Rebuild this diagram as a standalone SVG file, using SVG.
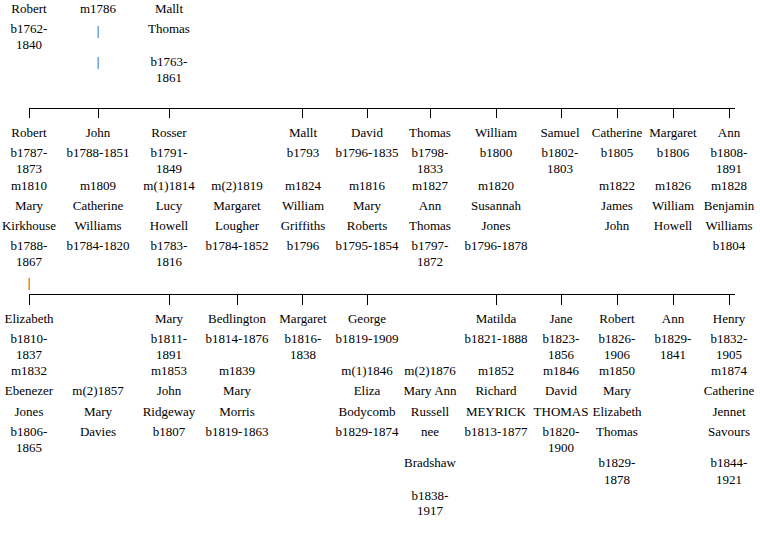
<svg xmlns="http://www.w3.org/2000/svg" width="760" height="541" viewBox="0 0 760 541" font-family="'Liberation Serif', 'DejaVu Serif', serif">
<style>
text{font-family:'Liberation Serif','DejaVu Serif',serif;font-size:13px;fill:#000;text-anchor:middle}
.c line{stroke:#000;stroke-width:1;fill:none}
</style>
<rect width="760" height="541" fill="#fff"/>
<g class="c" id="connectors">
<line x1="29" y1="108.5" x2="735" y2="108.5"/>
<line x1="29.5" y1="108" x2="29.5" y2="118"/>
<line x1="98.5" y1="108" x2="98.5" y2="118"/>
<line x1="169.5" y1="108" x2="169.5" y2="118"/>
<line x1="302.5" y1="108" x2="302.5" y2="118"/>
<line x1="367.5" y1="108" x2="367.5" y2="118"/>
<line x1="430.5" y1="108" x2="430.5" y2="118"/>
<line x1="496.5" y1="108" x2="496.5" y2="118"/>
<line x1="561.5" y1="108" x2="561.5" y2="118"/>
<line x1="617.5" y1="108" x2="617.5" y2="118"/>
<line x1="673.5" y1="108" x2="673.5" y2="118"/>
<line x1="729.5" y1="108" x2="729.5" y2="118"/>
<line x1="29" y1="294.5" x2="735" y2="294.5"/>
<line x1="29.5" y1="294" x2="29.5" y2="305"/>
<line x1="169.5" y1="294" x2="169.5" y2="305"/>
<line x1="237.5" y1="294" x2="237.5" y2="305"/>
<line x1="302.5" y1="294" x2="302.5" y2="305"/>
<line x1="367.5" y1="294" x2="367.5" y2="305"/>
<line x1="496.5" y1="294" x2="496.5" y2="305"/>
<line x1="561.5" y1="294" x2="561.5" y2="305"/>
<line x1="617.5" y1="294" x2="617.5" y2="305"/>
<line x1="673.5" y1="294" x2="673.5" y2="305"/>
<line x1="729.5" y1="294" x2="729.5" y2="305"/>
</g>
<g id="robert-1762"><text x="29" y="13">Robert</text><text x="29" y="33">b1762-</text><text x="29" y="49">1840</text></g>
<g id="m1786"><text x="98" y="13">m1786</text><text x="98" y="35">|</text><text x="98" y="66">|</text></g>
<g id="mallt-thomas"><text x="169" y="13">Mallt</text><text x="169" y="33">Thomas</text><text x="169" y="66">b1763-</text><text x="169" y="82">1861</text></g>

<g id="robert-1787"><text x="29" y="137">Robert</text><text x="29" y="157">b1787-</text><text x="29" y="173">1873</text><text x="29" y="190">m1810</text><text x="29" y="210">Mary</text><text x="29" y="230">Kirkhouse</text><text x="29" y="250">b1788-</text><text x="29" y="266">1867</text><text x="29" y="287">|</text></g>
<g id="john"><text x="98" y="137">John</text><text x="98" y="157">b1788-1851</text><text x="98" y="190">m1809</text><text x="98" y="210">Catherine</text><text x="98" y="230">Williams</text><text x="98" y="250">b1784-1820</text></g>
<g id="rosser"><text x="169" y="137">Rosser</text><text x="169" y="157">b1791-</text><text x="169" y="173">1849</text><text x="169" y="190">m(1)1814</text><text x="169" y="210">Lucy</text><text x="169" y="230">Howell</text><text x="169" y="250">b1783-</text><text x="169" y="266">1816</text></g>
<g id="rosser-m2"><text x="237" y="190">m(2)1819</text><text x="237" y="210">Margaret</text><text x="237" y="230">Lougher</text><text x="237" y="250">b1784-1852</text></g>
<g id="mallt"><text x="303" y="137">Mallt</text><text x="303" y="157">b1793</text><text x="303" y="190">m1824</text><text x="303" y="210">William</text><text x="303" y="230">Griffiths</text><text x="303" y="250">b1796</text></g>
<g id="david"><text x="367" y="137">David</text><text x="367" y="157">b1796-1835</text><text x="367" y="190">m1816</text><text x="367" y="210">Mary</text><text x="367" y="230">Roberts</text><text x="367" y="250">b1795-1854</text></g>
<g id="thomas"><text x="430" y="137">Thomas</text><text x="430" y="157">b1798-</text><text x="430" y="173">1833</text><text x="430" y="190">m1827</text><text x="430" y="210">Ann</text><text x="430" y="230">Thomas</text><text x="430" y="250">b1797-</text><text x="430" y="266">1872</text></g>
<g id="william"><text x="496" y="137">William</text><text x="496" y="157">b1800</text><text x="496" y="190">m1820</text><text x="496" y="210">Susannah</text><text x="496" y="230">Jones</text><text x="496" y="250">b1796-1878</text></g>
<g id="samuel"><text x="560" y="137">Samuel</text><text x="560" y="157">b1802-</text><text x="560" y="173">1803</text></g>
<g id="catherine"><text x="617" y="137">Catherine</text><text x="617" y="157">b1805</text><text x="617" y="190">m1822</text><text x="617" y="210">James</text><text x="617" y="230">John</text></g>
<g id="margaret"><text x="673" y="137">Margaret</text><text x="673" y="157">b1806</text><text x="673" y="190">m1826</text><text x="673" y="210">William</text><text x="673" y="230">Howell</text></g>
<g id="ann-1808"><text x="729" y="137">Ann</text><text x="729" y="157">b1808-</text><text x="729" y="173">1891</text><text x="729" y="190">m1828</text><text x="729" y="210">Benjamin</text><text x="729" y="230">Williams</text><text x="729" y="250">b1804</text></g>

<g id="elizabeth"><text x="29" y="323">Elizabeth</text><text x="29" y="343">b1810-</text><text x="29" y="359">1837</text><text x="29" y="375">m1832</text><text x="29" y="395">Ebenezer</text><text x="29" y="416">Jones</text><text x="29" y="436">b1806-</text><text x="29" y="452">1865</text></g>
<g id="ebenezer-m2"><text x="98" y="395">m(2)1857</text><text x="98" y="416">Mary</text><text x="98" y="436">Davies</text></g>
<g id="mary"><text x="169" y="323">Mary</text><text x="169" y="343">b1811-</text><text x="169" y="359">1891</text><text x="169" y="375">m1853</text><text x="169" y="395">John</text><text x="169" y="416">Ridgeway</text><text x="169" y="436">b1807</text></g>
<g id="bedlington"><text x="237" y="323">Bedlington</text><text x="237" y="343">b1814-1876</text><text x="237" y="375">m1839</text><text x="237" y="395">Mary</text><text x="237" y="416">Morris</text><text x="237" y="436">b1819-1863</text></g>
<g id="margaret-1816"><text x="303" y="323">Margaret</text><text x="303" y="343">b1816-</text><text x="303" y="359">1838</text></g>
<g id="george"><text x="367" y="323">George</text><text x="367" y="343">b1819-1909</text><text x="367" y="375">m(1)1846</text><text x="367" y="395">Eliza</text><text x="367" y="416">Bodycomb</text><text x="367" y="436">b1829-1874</text></g>
<g id="george-m2"><text x="430" y="375">m(2)1876</text><text x="430" y="395">Mary Ann</text><text x="430" y="416">Russell</text><text x="430" y="436">nee</text><text x="430" y="467">Bradshaw</text><text x="430" y="500">b1838-</text><text x="430" y="515">1917</text></g>
<g id="matilda"><text x="496" y="323">Matilda</text><text x="496" y="343">b1821-1888</text><text x="496" y="375">m1852</text><text x="496" y="395">Richard</text><text x="496" y="416">MEYRICK</text><text x="496" y="436">b1813-1877</text></g>
<g id="jane"><text x="561" y="323">Jane</text><text x="561" y="343">b1823-</text><text x="561" y="359">1856</text><text x="561" y="375">m1846</text><text x="561" y="395">David</text><text x="561" y="416">THOMAS</text><text x="561" y="436">b1820-</text><text x="561" y="452">1900</text></g>
<g id="robert-1826"><text x="617" y="323">Robert</text><text x="617" y="343">b1826-</text><text x="617" y="359">1906</text><text x="617" y="375">m1850</text><text x="617" y="395">Mary</text><text x="617" y="416">Elizabeth</text><text x="617" y="436">Thomas</text><text x="617" y="467">b1829-</text><text x="617" y="484">1878</text></g>
<g id="ann-1829"><text x="673" y="323">Ann</text><text x="673" y="343">b1829-</text><text x="673" y="359">1841</text></g>
<g id="henry"><text x="729" y="323">Henry</text><text x="729" y="343">b1832-</text><text x="729" y="359">1905</text><text x="729" y="375">m1874</text><text x="729" y="395">Catherine</text><text x="729" y="416">Jennet</text><text x="729" y="436">Savours</text><text x="729" y="467">b1844-</text><text x="729" y="484">1921</text></g>
</svg>
